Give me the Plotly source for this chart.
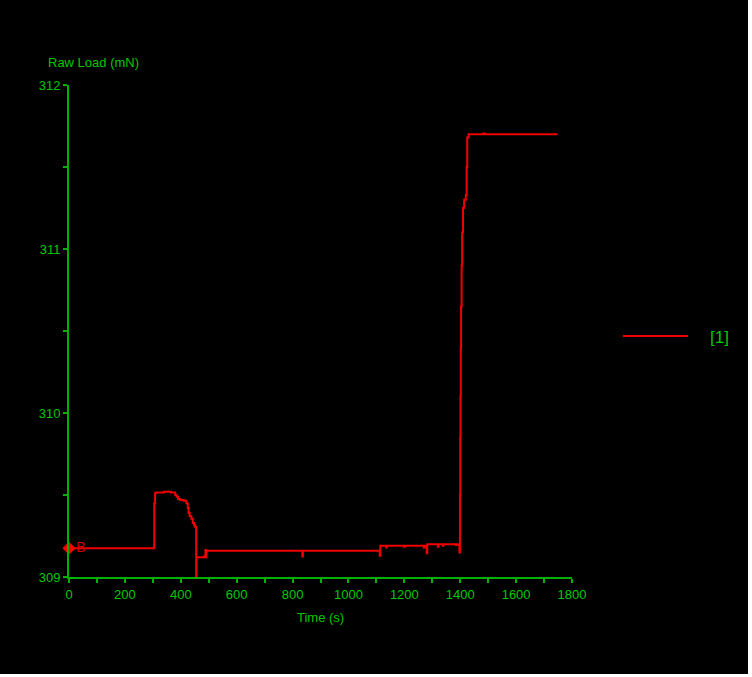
import plotly.graph_objects as go

# ---- data ----
time_s = [0, 305, 308, 312, 340, 365, 380, 385, 390, 398, 410, 420, 425, 428, 432,
          438, 443, 448, 452, 455, 456, 483, 488, 490, 492, 835, 837, 1112, 1114,
          1135, 1137, 1200, 1202, 1270, 1272, 1280, 1282, 1320, 1322, 1338, 1340,
          1385, 1388, 1397, 1399, 1400, 1401, 1402, 1403, 1405, 1407, 1410, 1414,
          1420, 1423, 1425, 1430, 1483, 1488, 1748]
raw_load = [309.175, 309.45, 309.51, 309.515, 309.52, 309.515, 309.50, 309.49, 309.475,
            309.47, 309.465, 309.45, 309.42, 309.39, 309.37, 309.355, 309.33, 309.315,
            309.305, 309.0, 309.12, 309.125, 309.165, 309.12, 309.16, 309.125, 309.16,
            309.13, 309.19, 309.18, 309.19, 309.185, 309.19, 309.18, 309.19, 309.145,
            309.20, 309.185, 309.20, 309.19, 309.20, 309.195, 309.20, 309.15, 309.5,
            309.85, 310.1, 310.4, 310.65, 310.9, 311.1, 311.25, 311.3, 311.33, 311.5,
            311.68, 311.70, 311.705, 311.70, 311.70]

marker_time = [0]
marker_load = [309.175]
marker_label = ["B"]
series_name = "[1]"

x_ticks = [0, 200, 400, 600, 800, 1000, 1200, 1400, 1600, 1800]
y_ticks = [309, 310, 311, 312]

AXIS_COL = "#00b000"
TEXT_COL = "#00c800"
LINE_COL = "#f00000"
FONT = "Liberation Sans, Arial, sans-serif"

fig = go.Figure()
fig.add_trace(go.Scatter(x=time_s, y=raw_load, mode="lines", line_shape="hv",
                         line=dict(color=LINE_COL, width=2), showlegend=False,
                         cliponaxis=False, name=series_name))
fig.add_trace(go.Scatter(x=marker_time, y=marker_load, mode="markers+text",
                         text=marker_label, textposition="middle right",
                         textfont=dict(color="#d00000", size=14, family=FONT),
                         marker=dict(symbol="diamond", size=10, color="#ff0000"),
                         cliponaxis=False, showlegend=False))

fig.update_xaxes(range=[0, 1800], tickvals=x_ticks, ticktext=[str(v) for v in x_ticks],
                 showgrid=False, zeroline=False, showline=True, linecolor=AXIS_COL,
                 linewidth=2, ticks="outside", ticklen=4, tickwidth=1.5, tickcolor=AXIS_COL,
                 minor=dict(dtick=100, ticks="outside", ticklen=4, tickwidth=1.5, tickcolor=AXIS_COL),
                 tickfont=dict(color=TEXT_COL, size=13, family=FONT))
fig.update_yaxes(range=[309, 312], tickvals=y_ticks, ticktext=[str(v) for v in y_ticks],
                 showgrid=False, zeroline=False, showline=True, linecolor=AXIS_COL,
                 linewidth=2, ticks="outside", ticklen=4, tickwidth=1.5, tickcolor=AXIS_COL,
                 minor=dict(dtick=0.5, ticks="outside", ticklen=4, tickwidth=1.5, tickcolor=AXIS_COL),
                 tickfont=dict(color=TEXT_COL, size=13, family=FONT))

W, H = 748, 674
L, R, T, B = 69, 176, 85, 97
pw, ph = W - L - R, H - T - B

def px(x):
    return (x - L) / pw

def py(y):
    return (H - B - y) / ph

fig.add_annotation(text="Raw Load (mN)", x=px(46), y=py(62), xref="paper", yref="paper",
                   xanchor="left", yanchor="middle", showarrow=False,
                   font=dict(color=TEXT_COL, size=13, family=FONT))
fig.add_annotation(text="Time (s)", x=px(320), y=py(617), xref="paper", yref="paper",
                   xanchor="center", yanchor="middle", showarrow=False,
                   font=dict(color=TEXT_COL, size=13, family=FONT))
# legend
fig.add_shape(type="line", xref="paper", yref="paper", x0=px(623), x1=px(688),
              y0=py(336), y1=py(336), line=dict(color=LINE_COL, width=2))
fig.add_annotation(text=series_name, x=px(708), y=py(337), xref="paper", yref="paper",
                   xanchor="left", yanchor="middle", showarrow=False,
                   font=dict(color=TEXT_COL, size=17, family=FONT))

fig.update_layout(width=W, height=H, autosize=False,
                  margin=dict(l=L, r=R, t=T, b=B, pad=0),
                  paper_bgcolor="#000000", plot_bgcolor="#000000", showlegend=False)

fig.write_html("out.html", config={"displayModeBar": False})
